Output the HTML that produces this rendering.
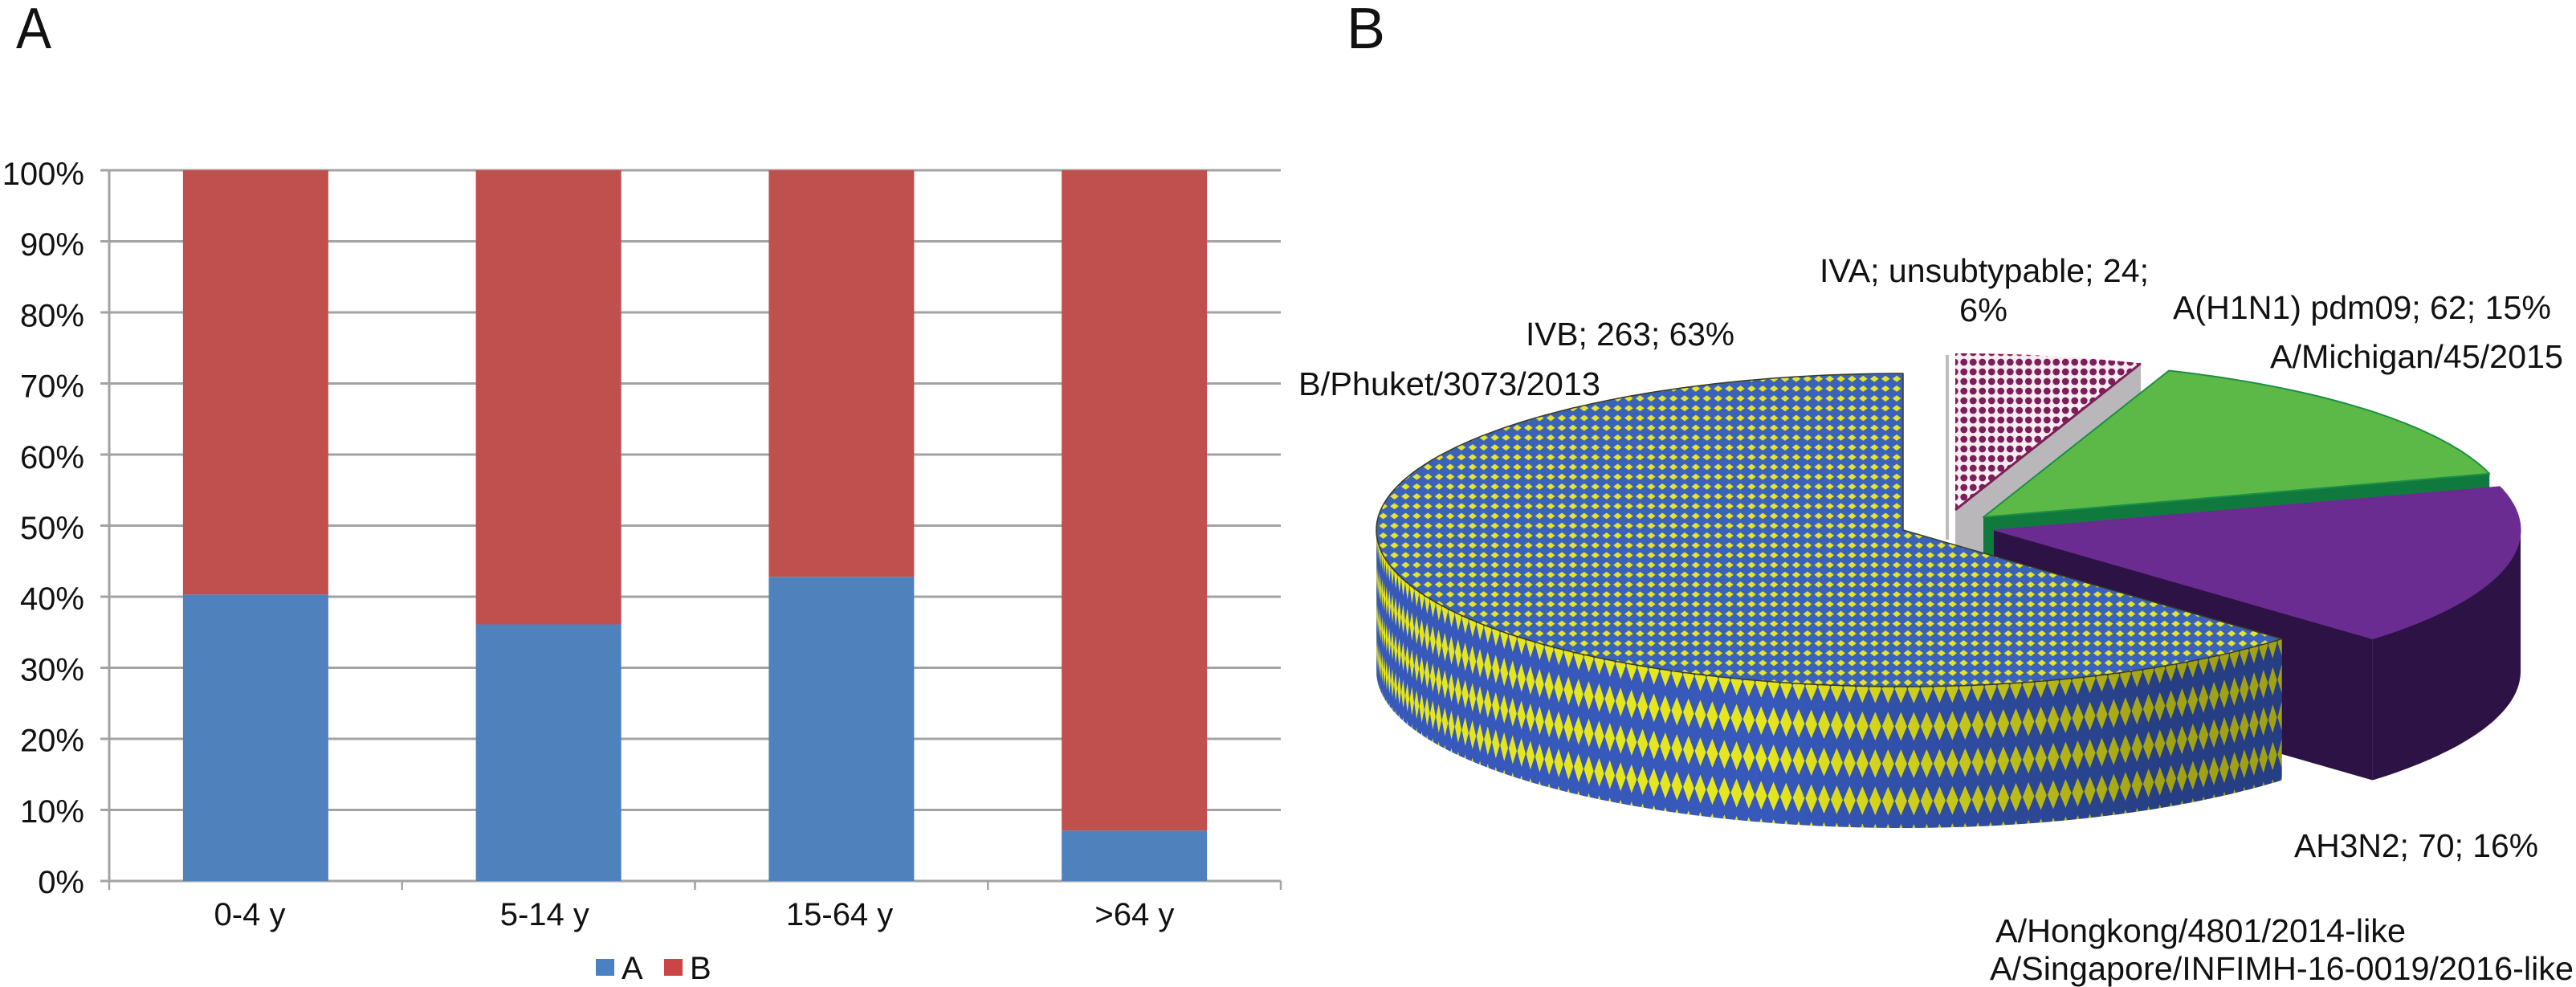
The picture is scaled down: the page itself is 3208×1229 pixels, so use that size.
<!DOCTYPE html>
<html lang="en">
<head>
<meta charset="utf-8">
<title>Influenza type by age group and strain distribution</title>
<style>
html,body{margin:0;padding:0;background:#fff;}
#figure{display:block;width:3208px;height:1229px;}
text{font-family:"Liberation Sans",sans-serif;fill:#111;}
</style>
</head>
<body>
<svg id="figure" xmlns="http://www.w3.org/2000/svg" width="3208" height="1229" viewBox="0 0 3208 1229">
  <defs>
    <pattern id="blue-top-pattern" patternUnits="userSpaceOnUse" x="6" y="2" width="13.9" height="12.2">
      <rect width="13.9" height="12.2" fill="#3a62b8"/>
      <path d="M1.6 6.1Q5 3.6 6.95 2.2Q9 3.6 12.3 6.1Q9 8.6 6.95 10Q5 8.6 1.6 6.1Z" fill="#e4e42e"/>
    </pattern>
    <pattern id="magenta-top-pattern" patternUnits="userSpaceOnUse" x="2" y="1" width="11.5" height="12">
      <rect width="11.5" height="12" fill="#f8ecf3"/>
      <circle cx="5.75" cy="6" r="4.4" fill="#7c1f58"/>
    </pattern>
    <linearGradient id="wall-shade" gradientUnits="userSpaceOnUse" x1="2200" y1="0" x2="2700" y2="0">
      <stop offset="0" stop-color="#000" stop-opacity="0"/>
      <stop offset="1" stop-color="#000" stop-opacity="0.3"/>
    </linearGradient>
  </defs>

  <text x="20" y="60" font-size="72" textLength="44" lengthAdjust="spacingAndGlyphs">A</text>
  <text x="1677" y="60" font-size="72">B</text>

  <g id="bar-chart"></g>
  <g id="bar-legend"></g>
  <g id="pie-chart"></g>

  <g font-size="41">
    <text x="1900" y="430" textLength="260" lengthAdjust="spacingAndGlyphs">IVB; 263; 63%</text>
    <text x="1617" y="492" textLength="376" lengthAdjust="spacingAndGlyphs">B/Phuket/3073/2013</text>
    <text x="2266" y="351" textLength="410" lengthAdjust="spacingAndGlyphs">IVA; unsubtypable; 24;</text>
    <text x="2440" y="400" textLength="60" lengthAdjust="spacingAndGlyphs">6%</text>
    <text x="2706" y="397" textLength="471" lengthAdjust="spacingAndGlyphs">A(H1N1) pdm09; 62; 15%</text>
    <text x="2827" y="458" textLength="365" lengthAdjust="spacingAndGlyphs">A/Michigan/45/2015</text>
    <text x="2857" y="1067" textLength="304" lengthAdjust="spacingAndGlyphs">AH3N2; 70; 16%</text>
    <text x="2485" y="1173" textLength="511" lengthAdjust="spacingAndGlyphs">A/Hongkong/4801/2014-like</text>
    <text x="2478" y="1220" textLength="727" lengthAdjust="spacingAndGlyphs">A/Singapore/INFIMH-16-0019/2016-like</text>
  </g>
</svg>

<script>
// ---- bar chart data ----
const categories = ['0-4 y', '5-14 y', '15-64 y', '>64 y'];
const seriesA = [40.3, 36.1, 42.8, 7.1];
const seriesB = [59.7, 63.9, 57.2, 92.9];
const yTicks = [0, 10, 20, 30, 40, 50, 60, 70, 80, 90, 100];
const legendLabels = ['A', 'B'];

// ---- pie chart data (clockwise from 12 o'clock) ----
const sliceNames = ['iva-unsubtypable', 'a-h1n1-pdm09', 'ah3n2', 'ivb'];
const sliceCounts = [24, 62, 70, 263];

const SVGNS = 'http://www.w3.org/2000/svg';
function mk(parent, tag, attrs) {
  const el = document.createElementNS(SVGNS, tag);
  for (const k in attrs) el.setAttribute(k, attrs[k]);
  parent.appendChild(el);
  return el;
}

// ---- bar chart layout ----
const plot = { left: 136, right: 1595, top: 212, bottom: 1097 };
const barWidth = 181;
const catWidth = (plot.right - plot.left) / categories.length;
const yScale = v => plot.bottom - (v / 100) * (plot.bottom - plot.top);
const yLabelPos = v => 1112 - (v / 100) * 882;
const xCenter = i => plot.left + catWidth * (i + 0.5);
const xLabelPos = i => 311 + 367.3 * i;
const axisColor = '#a3a3a3';
const colorA = '#4f81bd';
const colorB = '#c0504d';

const bars = document.getElementById('bar-chart');

yTicks.forEach(t => {
  const grid = mk(bars, 'line', { x1: plot.left - 11, x2: plot.right, y1: yScale(t), y2: yScale(t), stroke: axisColor, 'stroke-width': 3 });
  
  
  const label = mk(bars, 'text', { x: 105, y: yLabelPos(t), 'text-anchor': 'end', 'font-size': 40 });
  label.textContent = t + '%';
  
  
});

const yAxis = mk(bars, 'line', { x1: plot.left, x2: plot.left, y1: plot.top, y2: plot.bottom, stroke: axisColor, 'stroke-width': 3 });



for (let i = 0; i <= categories.length; i++) {
  const tick = mk(bars, 'line', { x1: plot.left + catWidth * i, x2: plot.left + catWidth * i, y1: plot.bottom, y2: plot.bottom + 11, stroke: axisColor, 'stroke-width': 2.5 });
  
  
}

categories.forEach((c, i) => {
  const x = xCenter(i) - barWidth / 2;
  const total = seriesA[i] + seriesB[i];
  const aTop = yScale(seriesA[i] / total * 100);
  const barA = mk(bars, 'rect', { x: x, y: aTop, width: barWidth, height: plot.bottom - aTop, fill: colorA });
  
  
  const bTop = yScale((seriesA[i] + seriesB[i]) / total * 100);
  const barB = mk(bars, 'rect', { x: x, y: bTop, width: barWidth, height: aTop - bTop, fill: colorB });
  
  
  const label = mk(bars, 'text', { x: xLabelPos(i), y: 1152, 'text-anchor': 'middle', 'font-size': 40 });
  label.textContent = c;
  
  
});

// ---- legend ----
const legend = document.getElementById('bar-legend');
const legendColors = ['#4a80c4', '#cc4545'];
legendLabels.forEach((l, i) => {
  const baseX = 742 + i * 85;
  const swatch = mk(legend, 'rect', { x: baseX, y: 1194, width: 23, height: 21, fill: legendColors[i] });
  
  
  const label = mk(legend, 'text', { x: baseX + 32, y: 1219, 'font-size': 40 });
  label.textContent = l;
  
  
});

// ---- 3D pie ----
const pie = document.getElementById('pie-chart');
const RX = 656, RY = 195, DEPTH = 176;
const sliceStyles = [
  { ax: 2435, ay: 635, top: 'url(#magenta-top-pattern)', side: '#b9b7b9', edge: 'none', edgeWidth: 0, cutEdge: '#7c1f58' },
  { ax: 2470, ay: 644, top: '#5cb947', side: '#107a3e', edge: '#1d8f45', edgeWidth: 2 },
  { ax: 2483, ay: 660, top: '#6a2c91', side: '#2c1245', edge: '#6a2c91', edgeWidth: 1 },
  { ax: 2370, ay: 660, top: 'url(#blue-top-pattern)', side: '#3659bb', edge: '#3a3a20', edgeWidth: 1.5, diamonds: true }
];
const rad = d => d * Math.PI / 180;
const ptX = (s, phi) => s.ax + RX * Math.sin(rad(phi));
const ptY = (s, phi) => s.ay - RY * Math.cos(rad(phi));
function arcPoints(s, from, to, dy) {
  const out = [];
  const n = Math.max(2, Math.ceil(Math.abs(to - from)));
  for (let k = 0; k <= n; k++) {
    const phi = from + (to - from) * k / n;
    out.push(ptX(s, phi).toFixed(1) + ' ' + (ptY(s, phi) + dy).toFixed(1));
  }
  return out;
}

const total = sliceCounts.reduce((a, b) => a + b, 0);
let cursor = 0;
sliceCounts.forEach((count, i) => {
  const s = sliceStyles[i];
  const start = cursor;
  const end = cursor + count / total * 360;
  cursor = end;

  // cut faces
  [start, end].forEach(phi => {
    const face = mk(pie, 'path', {
      d: 'M' + s.ax + ' ' + s.ay + 'L' + ptX(s, phi) + ' ' + ptY(s, phi) + 'L' + ptX(s, phi) + ' ' + (ptY(s, phi) + DEPTH) + 'L' + s.ax + ' ' + (s.ay + DEPTH) + 'Z',
      fill: s.side
    });
    
    
  });

  // outer wall (front half only)
  const wFrom = Math.max(start, 90);
  const wTo = Math.min(end, 270);
  if (wTo > wFrom) {
    const wallD = 'M' + arcPoints(s, wFrom, wTo, 0).join('L') + 'L' + arcPoints(s, wTo, wFrom, DEPTH).join('L') + 'Z';
    const wall = mk(pie, 'path', { d: wallD, fill: s.side });
    
    
    if (s.diamonds) {
      const clip = mk(pie, 'clipPath', { id: 'wall-clip-' + i });
      mk(clip, 'path', { d: wallD });
      const stepDeg = 1.4, rowGap = 46.5, rowOffset = 3, halfH = 18, widthFrac = 0.47;
      let d = '';
      for (let phi = wFrom; phi <= wTo + stepDeg; phi += stepDeg) {
        for (let r = 0; r <= 4; r++) {
          const dy = rowOffset + r * rowGap;
          const cx = ptX(s, phi), cy = ptY(s, phi) + dy;
          const lx = ptX(s, phi + stepDeg * widthFrac), ly = ptY(s, phi + stepDeg * widthFrac) + dy;
          const rx = ptX(s, phi - stepDeg * widthFrac), ry = ptY(s, phi - stepDeg * widthFrac) + dy;
          d += 'M' + lx.toFixed(1) + ' ' + ly.toFixed(1) + 'L' + cx.toFixed(1) + ' ' + (cy - halfH).toFixed(1) + 'L' + rx.toFixed(1) + ' ' + ry.toFixed(1) + 'L' + cx.toFixed(1) + ' ' + (cy + halfH).toFixed(1) + 'Z';
        }
      }
      const diamonds = mk(pie, 'path', { d: d, fill: '#e6e61e', 'clip-path': 'url(#wall-clip-' + i + ')' });
      
      
      const shade = mk(pie, 'path', { d: wallD, fill: 'url(#wall-shade)' });
      
      
    }
  }

  // top surface
  const topD = 'M' + s.ax + ' ' + s.ay + 'L' + arcPoints(s, start, end, 0).join('L') + 'Z';
  const top = mk(pie, 'path', { d: topD, fill: s.top, stroke: s.edge, 'stroke-width': s.edgeWidth, 'stroke-linejoin': 'round' });
  
  

  if (s.cutEdge) {
    const cutLine = mk(pie, 'line', { x1: s.ax, y1: s.ay, x2: ptX(s, end), y2: ptY(s, end), stroke: s.cutEdge, 'stroke-width': 3 });
    
    
    const wallLine = mk(pie, 'line', { x1: s.ax - 10, x2: s.ax - 10, y1: s.ay - RY + 2, y2: s.ay + 37, stroke: '#bdbdbd', 'stroke-width': 4 });
    
    
  }
});
</script>
</body>
</html>
